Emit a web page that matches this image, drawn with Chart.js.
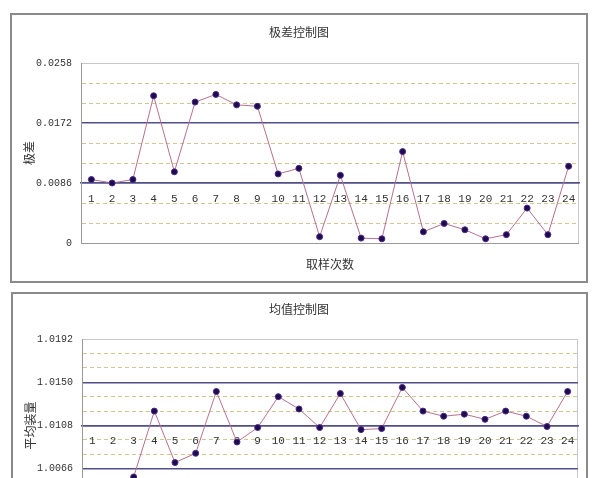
<!DOCTYPE html>
<html>
<head>
<meta charset="utf-8">
<script src="https://cdn.jsdelivr.net/npm/chart.js@4.4.1/dist/chart.umd.min.js"></script>
<style>
    html, body { margin: 0; padding: 0; background: #fff; overflow: hidden; width: 604px; height: 478px; }
    .box { position: absolute; border: 2px solid #8a8a8a; background: #fff; }
    .box canvas { position: absolute; left: 0; top: 0; }
    .title { position: absolute; font: 12px 'Noto Sans CJK SC', sans-serif; color: #333; white-space: nowrap; transform: translate(-50%, -50%); }
</style>
</head>
<body>
<div class="box" id="rangeBox" style="left:10px; top:13px; width:574px; height:266px;">
    <canvas id="rangeChart" width="574" height="266"></canvas>
    <div class="title" style="left:287px; top:16px;">极差控制图</div>
    <div class="title" style="left:318px; top:248px;">取样次数</div>
</div>
<div class="box" id="meanBox" style="left:11px; top:292px; width:573px; height:260px;">
    <canvas id="meanChart" width="573" height="260"></canvas>
    <div class="title" style="left:286px; top:14px;">均值控制图</div>
</div>

<script>
const samples = ['1', '2', '3', '4', '5', '6', '7', '8', '9', '10', '11', '12',
    '13', '14', '15', '16', '17', '18', '19', '20', '21', '22', '23', '24'];

// 极差 R
const rangeValues = [0.0091, 0.0086, 0.0091, 0.0211, 0.0102, 0.0202, 0.0213, 0.0198, 0.0196, 0.0099, 0.0107, 0.0009,
    0.0097, 0.0007, 0.0006, 0.0131, 0.0016, 0.0028, 0.0019, 0.0006, 0.0012, 0.0050, 0.0012, 0.0110];
const rangeTicks = [0, 0.0086, 0.0172, 0.0258];
const rangeTickLabels = ['0', '0.0086', '0.0172', '0.0258'];

// 平均装量 X-bar
const meanValues = [1.0052, 1.0050, 1.0058, 1.0122, 1.0072, 1.0081, 1.0141, 1.0092, 1.0106, 1.0136, 1.0124, 1.0106,
    1.0139, 1.0104, 1.0105, 1.0145, 1.0122, 1.0117, 1.0119, 1.0114, 1.0122, 1.0117, 1.0107, 1.0141];
const meanTicks = [1.0024, 1.0066, 1.0108, 1.0150, 1.0192];
const meanTickLabels = ['1.0024', '1.0066', '1.0108', '1.0150', '1.0192'];

const xFont = { family: "'Liberation Mono', monospace", size: 11 };
const yFont = { family: "'Liberation Mono', monospace", size: 10 };

// every major interval split in three for the dashed lines
function gridValues(majors) {
    const out = [];
    for (let i = 0; i < majors.length - 1; i++) {
        const step = (majors[i + 1] - majors[i]) / 3;
        out.push(majors[i], majors[i] + step, majors[i] + 2 * step);
    }
    out.push(majors[majors.length - 1]);
    return out;
}

const plotFrame = {
    id: 'plotFrame',
    beforeDraw(chart) {
        const { ctx, chartArea } = chart;
        ctx.save();
        ctx.strokeStyle = '#c8c8cc';
        ctx.lineWidth = 1;
        ctx.strokeRect(chartArea.left + 0.5, chartArea.top + 0.5, chartArea.width - 1, chartArea.height);
        ctx.restore();
    }
};

function makeChart(id, values, majors, labels, yTitle, center, padding) {
    const grid = gridValues(majors);
    const last = grid.length - 1;
    return new Chart(document.getElementById(id), {
        type: 'line',
        data: {
            labels: samples,
            datasets: [{
                data: values,
                borderColor: '#b8708e',
                borderWidth: 1,
                pointRadius: 3,
                pointBackgroundColor: '#1e0a4e',
                pointBorderColor: '#4a2a8a',
                pointBorderWidth: 1,
                tension: 0
            }]
        },
        options: {
            responsive: false,
            animation: false,
            layout: { padding: padding },
            plugins: { legend: { display: false }, tooltip: { enabled: false } },
            scales: {
                x: {
                    position: { y: center },
                    offset: true,
                    grid: { display: false, drawTicks: false, tickLength: 0 },
                    border: { color: '#505088', width: 1.5 },
                    ticks: { font: xFont, color: '#333', padding: 9, maxRotation: 0, autoSkip: false }
                },
                y: {
                    min: majors[0],
                    max: majors[majors.length - 1],
                    afterBuildTicks: scale => { scale.ticks = grid.map(v => ({ value: v })); },
                    afterFit: scale => { scale.width = 69; },
                    grid: {
                        drawTicks: false,
                        lineWidth: c => (c.index % 3 === 0 && c.index !== 0 && c.index !== last) ? 1.5 : 1,
                        color: c => {
                            if (c.index === 0) return '#9a9a9a';
                            if (c.index === last) return '#c8c8cc';
                            return c.index % 3 === 0 ? '#505088' : '#cfc690';
                        }
                    },
                    border: {
                        color: '#9a9a9a',
                        dash: c => (c.index % 3 === 0) ? [] : [4, 3]
                    },
                    ticks: {
                        font: yFont,
                        color: '#333',
                        padding: 9,
                        autoSkip: false,
                        callback: (v, i) => i % 3 === 0 ? labels[i / 3] : ''
                    },
                    title: {
                        display: true,
                        text: yTitle,
                        color: '#333',
                        font: { family: "'Noto Sans CJK SC', sans-serif", size: 12 },
                        padding: { top: 10, bottom: 0 }
                    }
                }
            }
        },
        plugins: [plotFrame]
    });
}

makeChart('rangeChart', rangeValues, rangeTicks, rangeTickLabels, '极差', rangeTicks[1], { top: 48, right: 7, bottom: 38, left: 0 });
makeChart('meanChart', meanValues, meanTicks, meanTickLabels, '平均装量', meanTicks[2], { top: 45, right: 8, bottom: 42, left: 0 });
</script>
</body>
</html>
